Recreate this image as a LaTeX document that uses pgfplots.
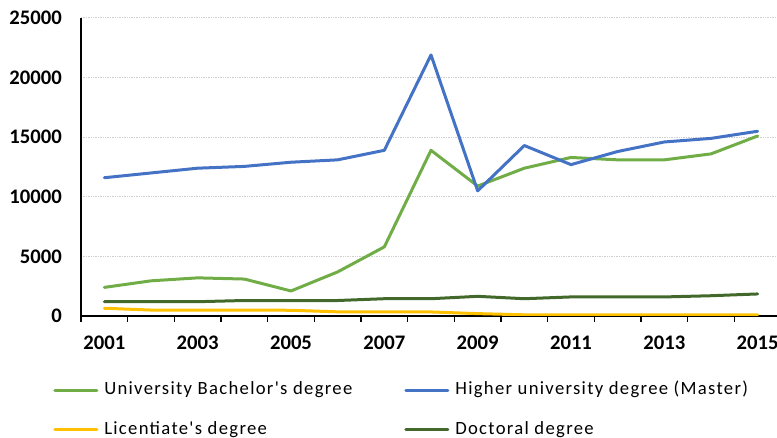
\documentclass[border=0pt]{standalone}
\usepackage{pgfplots}
\pgfplotsset{compat=1.18}
\usepackage{fontspec}
\setmainfont{Carlito}[Ligatures=TeXOff]
\definecolor{cBach}{HTML}{70AD47}
\definecolor{cMast}{HTML}{4472C4}
\definecolor{cLic}{HTML}{FFC000}
\definecolor{cDoc}{HTML}{43682B}
\definecolor{cGrid}{HTML}{CFCFCF}
\begin{document}
\begin{tikzpicture}
\begin{axis}[
 scale only axis, width=525pt, height=223.5pt,
 at={(0,0)}, anchor=south west,
 xmin=2000.5, xmax=2015.5, ymin=0, ymax=25000,
 axis x line*=bottom, axis y line*=left,
 axis line style={black, line width=1pt},
 xtick={2001,2003,...,2015},
 xticklabels={2001,2003,2005,2007,2009,2011,2013,2015},
 minor xtick={2000.5,2001.5,...,2015.5},
 ytick={0,5000,...,25000},
 yticklabels={0,5000,10000,15000,20000,25000},
 scaled y ticks=false, scaled x ticks=false,
 major tick length=0pt, minor tick length=4.5pt, tick align=outside,
 minor tick style={black, line width=0.9pt},
 ymajorgrids, grid style={cGrid, line width=0.75pt, dash pattern=on 1pt off 0.8pt},
 /pgf/number format/assume math mode=true,
 tick label style={font=\bfseries\fontsize{15.5}{18}\selectfont, inner sep=0pt},
 x tick label style={anchor=north, yshift=-15pt},
 y tick label style={anchor=east, xshift=-14.25pt},
 legend cell align=left,
 legend columns=2,
 legend style={draw=none, fill=none, at={(-0.04,-0.3154)}, anchor=west,
   font=\fontsize{14}{16}\selectfont\addfontfeature{LetterSpace=7},
   inner sep=0pt,
   nodes={inner sep=0pt, text height=10pt, text depth=3pt},
   row sep=16.5pt, column sep=4.5pt,
   /tikz/every even column/.append style={column sep=39pt}},
 legend image code/.code={\draw[#1] (0pt,0pt) -- (31.5pt,0pt);},
 every axis plot/.append style={line width=2.25pt, line join=round, line cap=round},
]
\addplot[cBach] coordinates {(2001,2400) (2002,2950) (2003,3200) (2004,3100) (2005,2100) (2006,3700) (2007,5800) (2008,13900) (2009,10900) (2010,12400) (2011,13300) (2012,13100) (2013,13100) (2014,13600) (2015,15100)};
\addlegendentry{University Bachelor's degree}
\addplot[cMast] coordinates {(2001,11600) (2002,12000) (2003,12400) (2004,12550) (2005,12900) (2006,13100) (2007,13900) (2008,21900) (2009,10500) (2010,14300) (2011,12700) (2012,13800) (2013,14600) (2014,14900) (2015,15500)};
\addlegendentry{Higher university degree (Master)}
\addplot[cLic] coordinates {(2001,650) (2002,500) (2003,500) (2004,500) (2005,480) (2006,350) (2007,340) (2008,340) (2009,200) (2010,100) (2011,100) (2012,100) (2013,100) (2014,100) (2015,100)};
\addlegendentry{Licentiate's degree}
\addplot[cDoc] coordinates {(2001,1200) (2002,1200) (2003,1200) (2004,1300) (2005,1300) (2006,1300) (2007,1450) (2008,1450) (2009,1650) (2010,1450) (2011,1600) (2012,1600) (2013,1600) (2014,1700) (2015,1850)};
\addlegendentry{Doctoral degree}
\end{axis}
\pgfresetboundingbox
\useasboundingbox (-60.75pt,-91.5pt) rectangle (522pt,237pt);
\end{tikzpicture}
\end{document}
